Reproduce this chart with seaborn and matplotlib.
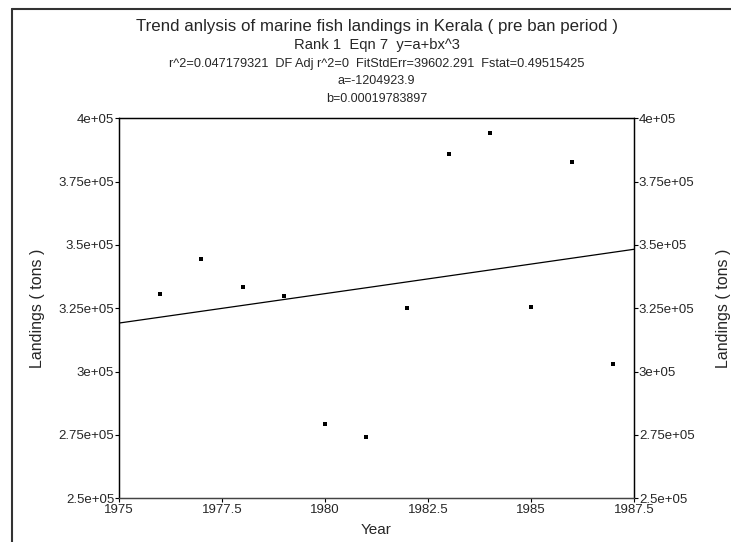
import numpy as np
import pandas as pd
import matplotlib
matplotlib.use("Agg")
import matplotlib.pyplot as plt
from matplotlib.lines import Line2D
from matplotlib.ticker import FixedLocator, FixedFormatter
import seaborn as sns

# ---- data ----
years = [1976, 1977, 1978, 1979, 1980, 1981, 1982, 1983, 1984, 1985, 1986, 1987]
landings = [330650, 344570, 333520, 329970, 279210, 274200,
            325000, 385780, 394180, 325390, 382620, 303010]
fit_a = -1204923.9
fit_b = 0.00019783897
x_ticks = [1975, 1977.5, 1980, 1982.5, 1985, 1987.5]
x_tick_labels = ["1975", "1977.5", "1980", "1982.5", "1985", "1987.5"]
y_ticks = [250000, 275000, 300000, 325000, 350000, 375000, 400000]
y_tick_labels = ["2.5e+05", "2.75e+05", "3e+05", "3.25e+05", "3.5e+05", "3.75e+05", "4e+05"]

sns.set_style("ticks")
plt.rcParams['font.family'] = ['Liberation Sans', 'DejaVu Sans']

df = pd.DataFrame({"Year": years, "Landings": landings})
xf = np.linspace(1975, 1987.5, 200)
fit_df = pd.DataFrame({"Year": xf, "Fit": fit_a + fit_b * xf ** 3})

W, H = 731, 542
fig = plt.figure(figsize=(W / 100, H / 100), dpi=100)
ax = fig.add_axes([119 / W, 1 - 498.3 / H, (634 - 119) / W, (498.3 - 118.3) / H])

sns.lineplot(data=fit_df, x="Year", y="Fit", ax=ax, color="black", linewidth=0.9)
sns.scatterplot(data=df, x="Year", y="Landings", ax=ax, color="black",
                marker="s", s=5.5, linewidth=0)

ax.set_xlim(1975, 1987.5)
ax.set_ylim(250000, 400000)
ax.xaxis.set_major_locator(FixedLocator(x_ticks))
ax.xaxis.set_major_formatter(FixedFormatter(x_tick_labels))
ax.yaxis.set_major_locator(FixedLocator(y_ticks))
ax.yaxis.set_major_formatter(FixedFormatter(y_tick_labels))
ax.tick_params(axis="y", labelsize=9.5, length=3, width=0.8, pad=0.5, color="black")
ax.tick_params(axis="x", labelsize=9.5, length=3, width=0.8, pad=1.0, color="black")
for name, sp in ax.spines.items():
    sp.set_visible(True)
    sp.set_color("black")
    sp.set_linewidth(0.9)
ax.spines["bottom"].set_color("#444444")
ax.set_xlabel("Year", fontsize=11, labelpad=5)
ax.set_ylabel("Landings ( tons )", fontsize=11.5, labelpad=9.5)

ax2 = ax.twinx()
ax2.set_ylim(250000, 400000)
ax2.yaxis.set_major_locator(FixedLocator(y_ticks))
ax2.yaxis.set_major_formatter(FixedFormatter(y_tick_labels))
ax2.tick_params(axis="y", labelsize=9.5, length=3, width=0.8, pad=0.5, color="black")
ax2.set_ylabel("Landings ( tons )", fontsize=11.5, labelpad=15.5)
for sp in ax2.spines.values():
    sp.set_visible(True)
    sp.set_color("black")
    sp.set_linewidth(0.9)
ax2.spines["bottom"].set_color("#444444")

cx = 376.5 / W
fig.text(cx, 1 - 26 / H, "Trend anlysis of marine fish landings in Kerala ( pre ban period )",
         ha="center", va="center", fontsize=12.2)
fig.text(cx, 1 - 45 / H, "Rank 1  Eqn 7  y=a+bx^3", ha="center", va="center", fontsize=10.6)
fig.text(cx, 1 - 64 / H,
         "r^2=0.047179321  DF Adj r^2=0  FitStdErr=39602.291  Fstat=0.49515425",
         ha="center", va="center", fontsize=9.2)
fig.text(cx, 1 - 81 / H, "a=-1204923.9", ha="center", va="center", fontsize=9)
fig.text(cx, 1 - 99 / H, "b=0.00019783897", ha="center", va="center", fontsize=9)

# outer frame (top and left edges)
fig.add_artist(Line2D([12 / W, 1], [1 - 9 / H, 1 - 9 / H], transform=fig.transFigure,
                      color="#333333", linewidth=1.5))
fig.add_artist(Line2D([12 / W, 12 / W], [0, 1 - 9 / H], transform=fig.transFigure,
                      color="#333333", linewidth=1.5))

fig.savefig("out.png", dpi=100)
